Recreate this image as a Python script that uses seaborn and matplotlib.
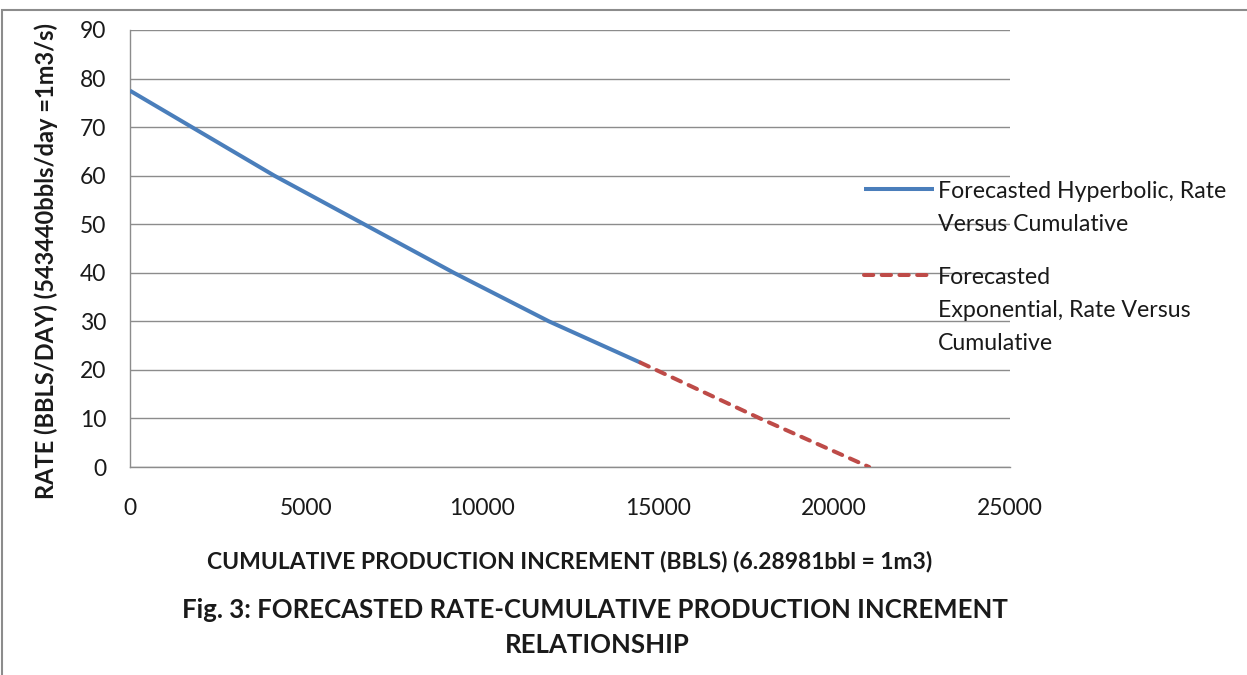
import matplotlib
matplotlib.use("Agg")
import matplotlib.pyplot as plt
import seaborn as sns
import pandas as pd
from matplotlib.patches import Rectangle

# ---- data ----
hyp_cum = [0, 4100, 9200, 11900, 14500]
hyp_rate = [77.5, 60.0, 40.0, 30.0, 21.5]
exp_cum = [14500, 17900, 21000]
exp_rate = [21.5, 10.0, 0.0]
hyp_label = "Forecasted Hyperbolic, Rate\nVersus Cumulative"
exp_label = "Forecasted\nExponential, Rate Versus\nCumulative"
x_ticks = [0, 5000, 10000, 15000, 20000, 25000]
y_ticks = [0, 10, 20, 30, 40, 50, 60, 70, 80, 90]

sns.set_theme(style="white")
plt.rcParams['font.family'] = ['Lato', 'DejaVu Sans']

fig = plt.figure(figsize=(12.47, 6.75), dpi=100)
ax = fig.add_axes([130/1247, 1-467/675, 880/1247, 437/675])

df_h = pd.DataFrame({"cum": hyp_cum, "rate": hyp_rate})
df_e = pd.DataFrame({"cum": exp_cum, "rate": exp_rate})
blue = "#4A7EBB"
red = "#BE4B48"
sns.lineplot(data=df_h, x="cum", y="rate", ax=ax, color=blue, lw=2.9,
             label=hyp_label, solid_capstyle="butt", zorder=3)
sns.lineplot(data=df_e, x="cum", y="rate", ax=ax, color=red, lw=2.9,
             label=exp_label, zorder=3)
ax.lines[1].set_dashes((2.3, 2.1))
ax.lines[1].set_dash_capstyle("round")

ax.set_xlim(0, 25000)
ax.set_ylim(0, 90)
ax.set_xticks(x_ticks)
ax.set_yticks(y_ticks)
ax.yaxis.grid(True, color="#8c8c8c", lw=1.0)
ax.xaxis.grid(False)
for s in ["top", "right"]:
    ax.spines[s].set_visible(False)
for s in ["left", "bottom"]:
    ax.spines[s].set_color("#8c8c8c")
    ax.spines[s].set_linewidth(1.0)
ax.tick_params(axis="both", length=0, labelsize=16.5, colors="#1a1a1a")
ax.tick_params(axis="y", pad=17)
ax.tick_params(axis="x", pad=22)

ax.set_xlabel("CUMULATIVE PRODUCTION INCREMENT (BBLS) (6.28981bbl = 1m3)",
              fontsize=16.5, fontweight="bold", color="#1a1a1a")
ax.xaxis.set_label_coords(0.5, (467 - 551) / 437)
ax.set_ylabel("RATE (BBLS/DAY) (543440bbls/day =1m3/s)",
              fontsize=17, fontweight="bold", color="#1a1a1a")
ax.yaxis.set_label_coords((58 - 130) / 880, (467 - 261) / 437)

fig.text(595/1247, 1-610/675, "Fig. 3: FORECASTED RATE-CUMULATIVE PRODUCTION INCREMENT",
         ha="center", va="center", fontsize=18.5, fontweight="bold", color="#1a1a1a")
fig.text(597/1247, 1-645/675, "RELATIONSHIP",
         ha="center", va="center", fontsize=18.5, fontweight="bold", color="#1a1a1a")

leg = ax.legend(loc="upper left", bbox_to_anchor=(864/1247, 1-181/675),
                bbox_transform=fig.transFigure, frameon=False, fontsize=16.7,
                handlelength=3.0, handletextpad=0.2, labelspacing=1.37,
                borderpad=0, borderaxespad=0)
for t in leg.get_texts():
    t.set_linespacing(1.72)
    t.set_color("#1a1a1a")
try:
    for col in leg._legend_handle_box.get_children():
        for row in col.get_children():
            row.align = "top"
except Exception:
    pass

fig.patches.append(Rectangle((2/1247, -0.05), 1.1, 1-10/675 + 0.05,
                             transform=fig.transFigure, fill=False,
                             edgecolor="#8c8c8c", lw=1.5))

fig.savefig("out.png", dpi=100)
